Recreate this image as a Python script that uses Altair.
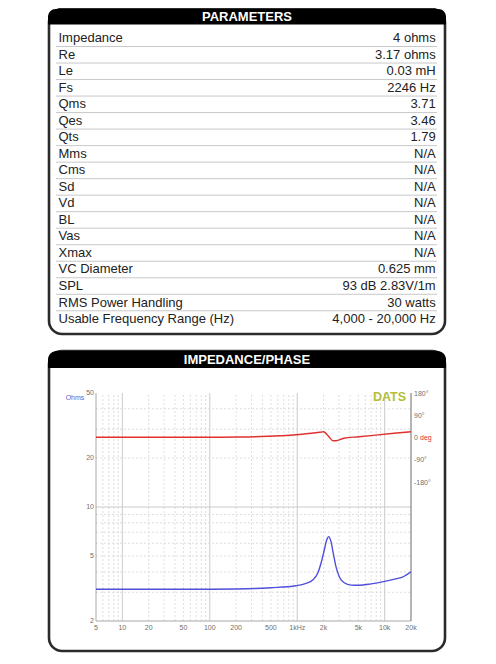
import altair as alt
import pandas as pd

# ---------------- data ----------------
PARAM_NAMES = ["Impedance", "Re", "Le", "Fs", "Qms", "Qes", "Qts", "Mms", "Cms", "Sd",
               "Vd", "BL", "Vas", "Xmax", "VC Diameter", "SPL", "RMS Power Handling",
               "Usable Frequency Range (Hz)"]
PARAM_VALUES = ["4 ohms", "3.17 ohms", "0.03 mH", "2246 Hz", "3.71", "3.46", "1.79", "N/A",
                "N/A", "N/A", "N/A", "N/A", "N/A", "N/A", "0.625 mm", "93 dB 2.83V/1m",
                "30 watts", "4,000 - 20,000 Hz"]

IMP_FREQ = [5, 20, 50, 100, 200, 500, 968, 1260, 1503, 1714, 1870, 2040, 2173, 2290, 2433,
            2585, 2775, 3028, 3453, 4120, 5127, 7000, 10000, 13000, 16000, 20000]
IMP_OHMS = [3.13, 3.13, 3.13, 3.13, 3.14, 3.20, 3.29, 3.40, 3.57, 3.92, 4.52, 5.45, 6.28, 6.58,
            6.13, 5.20, 4.31, 3.74, 3.43, 3.32, 3.31, 3.38, 3.50, 3.61, 3.72, 4.01]

PHASE_FREQ = [5, 100, 224, 640, 968, 1260, 1800, 2000, 2100, 2330, 2560, 2780, 3400, 5100,
              12800, 20000]
PHASE_DEG = [3, 3, 4, 9, 13, 17, 23, 25, 21, 3, -11, -11, -1, 5, 19, 25]

X_TICKS = [5, 10, 20, 50, 100, 200, 500, 1000, 2000, 5000, 10000, 20000]
X_TICK_LABELS = ["5", "10", "20", "50", "100", "200", "500", "1kHz", "2k", "5k", "10k", "20k"]
Y_TICKS = [2, 5, 10, 20, 50]
Y_TICK_LABELS = ["2", "5", "10", "20", "50"]
P_TICKS = [180, 90, 0, -90, -180]
P_TICK_LABELS = ["180°", "90°", "0", "-90°", "-180°"]

X_GRID_MINOR = [6, 7, 8, 9, 20, 30, 40, 50, 60, 70, 80, 90, 200, 300, 400, 500, 600, 700,
                800, 900, 2000, 3000, 4000, 5000, 6000, 7000, 8000, 9000]
X_GRID_MAJOR = [10, 100, 1000, 10000]
Y_GRID_MINOR = [3, 4, 5, 6, 7, 8, 9, 20, 30, 40]
Y_GRID_MAJOR = [10]

# ---------------- style ----------------
FONT = "Liberation Sans"
BLUE = "#4f4fdc"
RED = "#e03030"
BOX_STROKE = "#2b2b2b"
TICK_COLOR = "#707070"
W, H = 460, 646

one = pd.DataFrame({"k": [0]})

xscale = alt.Scale(type="log", domain=[5, 20000], range=[88, 403], nice=False)
yscale = alt.Scale(type="log", domain=[2, 50], range=[613, 385], nice=False)
pscale = alt.Scale(domain=[-180, 180], range=[474.5, 385.5], nice=False, zero=False)
tscale = alt.Scale(type="band", domain=PARAM_NAMES, range=[22, 319.3],
                   paddingInner=0, paddingOuter=0)


def box(y0, y1):
    return alt.Chart(one).mark_rect(fill="white", stroke=BOX_STROKE, strokeWidth=2.6,
                                    cornerRadius=13).encode(
        x=alt.value(41), x2=alt.value(437), y=alt.value(y0), y2=alt.value(y1))


def header(y0, y1, title, ty):
    band = alt.Chart(one).mark_rect(fill="black", cornerRadiusTopLeft=13,
                                    cornerRadiusTopRight=13).encode(
        x=alt.value(40), x2=alt.value(438), y=alt.value(y0), y2=alt.value(y1))
    txt = alt.Chart(one).mark_text(text=title, color="white", fontWeight="bold", fontSize=13,
                                   font=FONT, align="center", baseline="middle").encode(
        x=alt.value(239), y=alt.value(ty))
    return band, txt


# ---------------- table ----------------
rows = pd.DataFrame({"name": PARAM_NAMES, "value": PARAM_VALUES})
seps = alt.Chart(rows.iloc[1:]).mark_rule(color="#c8c8c8", strokeWidth=1).encode(
    x=alt.value(48), x2=alt.value(429),
    y=alt.Y("name:N", scale=tscale, axis=None, bandPosition=0))
names = alt.Chart(rows).mark_text(align="left", baseline="middle", fontSize=13, font=FONT,
                                  color="#222222").encode(
    x=alt.value(50.5), y=alt.Y("name:N", scale=tscale, axis=None), text="name:N")
vals = alt.Chart(rows).mark_text(align="right", baseline="middle", fontSize=13, font=FONT,
                                 color="#222222").encode(
    x=alt.value(427.7), y=alt.Y("name:N", scale=tscale, axis=None), text="value:N")
table = alt.layer(seps, names, vals)

# ---------------- impedance ----------------
imp_df = pd.DataFrame({"f": IMP_FREQ, "z": IMP_OHMS})
ph_df = pd.DataFrame({"f": PHASE_FREQ, "p": PHASE_DEG})

xminor = alt.Chart(pd.DataFrame({"f": X_GRID_MINOR})).mark_rule(
    color="#d6d6d6", strokeDash=[2, 2], strokeWidth=0.8).encode(
    x=alt.X("f:Q", scale=xscale, axis=None),
    y=alt.YDatum(2, scale=yscale, axis=None), y2=alt.datum(50))
xmajor = alt.Chart(pd.DataFrame({"f": X_GRID_MAJOR})).mark_rule(
    color="#c4c4c4", strokeWidth=0.9).encode(
    x=alt.X("f:Q", scale=xscale, axis=None),
    y=alt.YDatum(2, scale=yscale, axis=None), y2=alt.datum(50))
yminor = alt.Chart(pd.DataFrame({"v": Y_GRID_MINOR})).mark_rule(
    color="#d6d6d6", strokeDash=[2, 2], strokeWidth=0.8).encode(
    y=alt.Y("v:Q", scale=yscale, axis=None),
    x=alt.XDatum(5, scale=xscale, axis=None), x2=alt.datum(20000))
ymajor = alt.Chart(pd.DataFrame({"v": Y_GRID_MAJOR})).mark_rule(
    color="#c4c4c4", strokeWidth=0.9).encode(
    y=alt.Y("v:Q", scale=yscale, axis=None),
    x=alt.XDatum(5, scale=xscale, axis=None), x2=alt.datum(20000))
frame_r = alt.Chart(one).mark_rule(color="#777777", strokeWidth=1.1).encode(
    x=alt.XDatum(20000, scale=xscale, axis=None),
    y=alt.YDatum(2, scale=yscale, axis=None), y2=alt.datum(50))
frame_l = alt.Chart(one).mark_rule(color="#a8a8a8", strokeWidth=1).encode(
    x=alt.XDatum(5, scale=xscale, axis=None),
    y=alt.YDatum(2, scale=yscale, axis=None), y2=alt.datum(50))
frame_b = alt.Chart(one).mark_rule(color="#a8a8a8", strokeWidth=1).encode(
    y=alt.YDatum(2, scale=yscale, axis=None),
    x=alt.XDatum(5, scale=xscale, axis=None), x2=alt.datum(20000))

x_lab = alt.Chart(pd.DataFrame({"t": X_TICKS, "lab": X_TICK_LABELS})).mark_text(
    fontSize=7, font=FONT, color=TICK_COLOR, align="center", baseline="top").encode(
    x=alt.X("t:Q", scale=xscale, axis=None), y=alt.value(616), text="lab:N")
y_lab = alt.Chart(pd.DataFrame({"t": Y_TICKS, "lab": Y_TICK_LABELS})).mark_text(
    fontSize=7, font=FONT, color=TICK_COLOR, align="right", baseline="middle").encode(
    y=alt.Y("t:Q", scale=yscale, axis=None), x=alt.value(86), text="lab:N")

imp_line = alt.Chart(imp_df).mark_line(color=BLUE, strokeWidth=1.4,
                                       interpolate="monotone").encode(
    x=alt.X("f:Q", scale=xscale, axis=None),
    y=alt.Y("z:Q", scale=yscale, axis=None))
imp_group = alt.layer(xminor, xmajor, yminor, ymajor, frame_l, frame_b, frame_r,
                      x_lab, y_lab, imp_line)

# ---------------- phase ----------------
ph_line = alt.Chart(ph_df).mark_line(color=RED, strokeWidth=1.4,
                                     interpolate="monotone").encode(
    x=alt.X("f:Q", scale=xscale, axis=None),
    y=alt.Y("p:Q", scale=pscale, axis=None))
p_lab = alt.Chart(pd.DataFrame({"t": P_TICKS, "lab": P_TICK_LABELS})).mark_text(
    fontSize=7, font=FONT, color=TICK_COLOR, align="left", baseline="middle").encode(
    y=alt.Y("t:Q", scale=pscale, axis=None), x=alt.value(406), text="lab:N")
deg_txt = alt.Chart(one).mark_text(text="deg", color=RED, fontSize=7, font=FONT,
                                   align="left", baseline="middle").encode(
    x=alt.value(412), y=alt.YDatum(0, scale=pscale, axis=None))
ph_group = alt.layer(ph_line, p_lab, deg_txt)

# ---------------- labels ----------------
dats = alt.Chart(one).mark_text(text="DATS", color="#b5bd3a", fontWeight="bold",
                                fontSize=12.5, font=FONT, align="right",
                                baseline="middle").encode(x=alt.value(398), y=alt.value(389))
ohms = alt.Chart(one).mark_text(text="Ohms", color="#6a5acd", fontSize=7, font=FONT,
                                align="center", baseline="middle").encode(
    x=alt.value(67), y=alt.value(390))

h1_band, h1_txt = header(1, 16.5, "PARAMETERS", 8.8)
h2_band, h2_txt = header(343, 360, "IMPEDANCE/PHASE", 351.5)

chart = alt.layer(
    box(1, 326), h1_band, h1_txt, table,
    box(343, 643), h2_band, h2_txt,
    imp_group, ph_group, dats, ohms,
).resolve_scale(y="independent").properties(
    width=W, height=H, autosize=alt.AutoSizeParams(type="none"), padding=0,
    background="white",
).configure_view(stroke=None)

chart.save("out.html", embed_options={"renderer": "svg", "actions": False})
